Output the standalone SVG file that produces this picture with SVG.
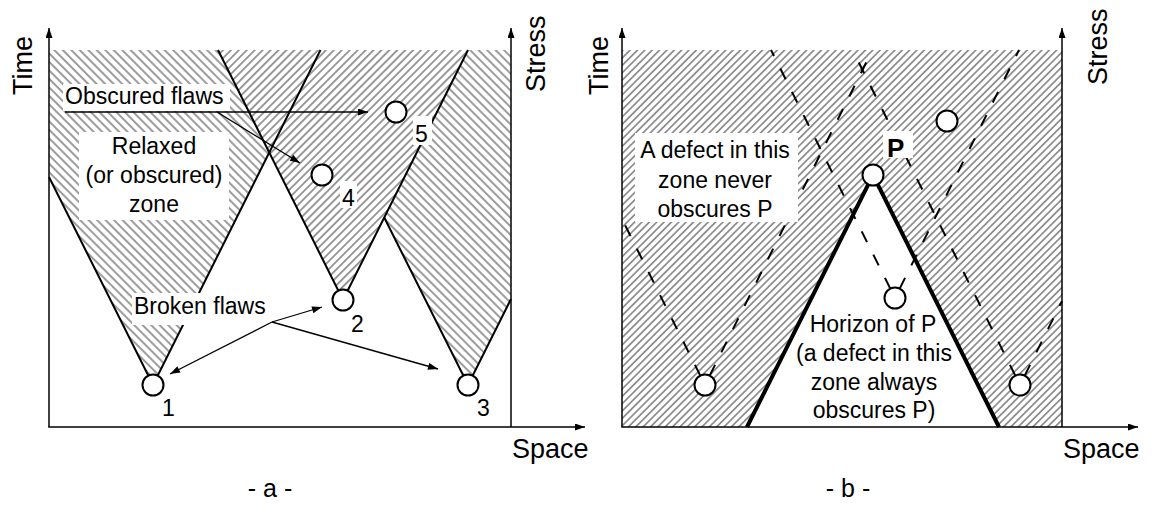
<svg xmlns="http://www.w3.org/2000/svg" width="1154" height="508" viewBox="0 0 1154 508">
<style>
.cone{stroke:#000;stroke-width:2;fill:none}
.hor{stroke:#000;stroke-width:4;fill:none}
.dash{stroke:#000;stroke-width:2;stroke-dasharray:12 14;fill:none}
.axis{stroke:#000;stroke-width:1.5;fill:none}
.conn{stroke:#000;stroke-width:1.3;fill:none}
.flaw{fill:#fff;stroke:#000;stroke-width:2}
.box{fill:#fff}
text{font-family:"Liberation Sans",Arial,Helvetica,sans-serif;font-size:23px;fill:#000}
.ax{font-size:27px}
.mid{text-anchor:middle}
</style>
<defs>
<pattern id="fw" width="5.6" height="5.6" patternUnits="userSpaceOnUse" patternTransform="rotate(45)"><line x1="2.8" y1="0" x2="2.8" y2="5.6" stroke="#222" stroke-width="0.9"/></pattern>
<pattern id="fwb" width="5.2" height="5.2" patternUnits="userSpaceOnUse" patternTransform="rotate(45)"><line x1="2.6" y1="0" x2="2.6" y2="5.2" stroke="#222" stroke-width="0.9"/></pattern>
<pattern id="bk" width="6" height="6" patternUnits="userSpaceOnUse" patternTransform="rotate(-45)"><line x1="3" y1="0" x2="3" y2="6" stroke="#222" stroke-width="0.9"/></pattern>
<marker id="ah" viewBox="0 0 10 7" refX="10" refY="3.5" markerWidth="11" markerHeight="7" orient="auto" markerUnits="userSpaceOnUse"><path d="M0,0 L10,3.5 L0,7 z" fill="#000"/></marker>
<marker id="axh" viewBox="0 0 10 7" refX="10" refY="3.5" markerWidth="11" markerHeight="7" orient="auto" markerUnits="userSpaceOnUse"><path d="M0,0 L10,3.5 L0,7 z" fill="#000"/></marker>
</defs>

<!-- Panel a -->
<g id="panel-a-zones">
<path d="M49,50 L218,50 L269,152.5 L153,385 L49,177 Z" fill="url(#bk)"/>
<path d="M218,50 L468,50 L343,300 Z" fill="url(#fw)"/>
<path d="M468,50 L511,50 L511,299 L468,385 L384.25,217.5 Z" fill="url(#bk)"/>
</g>
<g id="panel-a-cones">
<line class="cone" x1="153" y1="385" x2="49" y2="177"/>
<line class="cone" x1="153" y1="385" x2="320.5" y2="50"/>
<line class="cone" x1="343" y1="300" x2="218" y2="50"/>
<line class="cone" x1="343" y1="300" x2="468" y2="50"/>
<line class="cone" x1="468" y1="385" x2="384.25" y2="217.5"/>
<line class="cone" x1="468" y1="385" x2="511" y2="299"/>
</g>
<g id="panel-a-axes">
<line class="axis" x1="49" y1="427" x2="49" y2="28" marker-end="url(#axh)"/>
<line class="axis" x1="48.3" y1="427" x2="585" y2="427" marker-end="url(#axh)"/>
<line class="axis" x1="511" y1="427" x2="511" y2="28" marker-end="url(#axh)"/>
<text class="ax" transform="translate(32,95) rotate(-90)">Time</text>
<text class="ax" transform="translate(545,92) rotate(-90)">Stress</text>
<text class="ax" x="512" y="458">Space</text>
</g>
<g id="label-obscured">
<rect class="box" x="63" y="84" width="167" height="27"/>
<text x="65" y="104">Obscured flaws</text>
</g>
<g id="label-relaxed">
<rect class="box" x="79" y="132" width="150" height="88"/>
<text class="mid" x="154" y="154">Relaxed</text>
<text class="mid" x="154" y="183">(or obscured)</text>
<text class="mid" x="154" y="212">zone</text>
</g>
<g id="label-broken">
<rect class="box" x="132" y="293" width="136" height="32"/>
<text x="134" y="314">Broken flaws</text>
</g>
<g id="connectors-a">
<line class="conn" x1="65" y1="112" x2="368" y2="112" marker-end="url(#ah)"/>
<line class="conn" x1="217" y1="112" x2="300" y2="163" marker-end="url(#ah)"/>
<line class="conn" x1="272" y1="322" x2="170" y2="374" marker-end="url(#ah)"/>
<line class="conn" x1="272" y1="322" x2="322" y2="307" marker-end="url(#ah)"/>
<line class="conn" x1="272" y1="322" x2="438" y2="369" marker-end="url(#ah)"/>
</g>
<g id="flaw-1"><circle class="flaw" cx="153" cy="385" r="10.5"/><text x="162" y="416">1</text></g>
<g id="flaw-2"><circle class="flaw" cx="343" cy="300" r="10.5"/><text x="351" y="332">2</text></g>
<g id="flaw-3"><circle class="flaw" cx="468" cy="385" r="10.5"/><text x="477" y="416">3</text></g>
<g id="flaw-4"><circle class="flaw" cx="322" cy="175" r="10.5"/><rect class="box" x="340" y="181" width="17" height="27"/><text x="342" y="206">4</text></g>
<g id="flaw-5"><circle class="flaw" cx="396" cy="112" r="10.5"/><rect class="box" x="413" y="116" width="19" height="29"/><text x="415" y="142">5</text></g>
<text class="mid" x="270" y="497" style="font-size:25px">- a -</text>

<!-- Panel b -->
<g id="panel-b-zones">
<rect x="622" y="50" width="440" height="377" fill="url(#fwb)"/>
<path d="M873,175 L747,427 L999,427 Z" fill="#fff"/>
</g>
<g id="panel-b-dashed">
<line class="dash" x1="700.3" y1="375.6" x2="622" y2="219"/>
<line class="dash" x1="709.7" y1="375.6" x2="872.5" y2="50"/>
<line class="dash" x1="890.3" y1="288.6" x2="771" y2="50"/>
<line class="dash" x1="899.7" y1="288.6" x2="1019" y2="50"/>
<line class="dash" x1="1015.3" y1="375.6" x2="852.5" y2="50"/>
<line class="dash" x1="1024.7" y1="375.6" x2="1062" y2="301"/>
</g>
<g id="horizon-lines">
<line class="hor" x1="873" y1="175" x2="747" y2="427"/>
<line class="hor" x1="873" y1="175" x2="999" y2="427"/>
</g>
<g id="panel-b-axes">
<line class="axis" x1="622" y1="427" x2="622" y2="28" marker-end="url(#axh)"/>
<line class="axis" x1="621.3" y1="427" x2="1138" y2="427" marker-end="url(#axh)"/>
<line class="axis" x1="1062" y1="427" x2="1062" y2="28" marker-end="url(#axh)"/>
<text class="ax" transform="translate(608,95) rotate(-90)">Time</text>
<text class="ax" transform="translate(1107,85) rotate(-90)">Stress</text>
<text class="ax" x="1063" y="458">Space</text>
</g>
<g id="label-never">
<rect class="box" x="635" y="133" width="163" height="89"/>
<text class="mid" x="715" y="158">A defect in this</text>
<text class="mid" x="715" y="188">zone never</text>
<text class="mid" x="715" y="217">obscures P</text>
</g>
<g id="label-horizon">
<text class="mid" x="873" y="332">Horizon of P</text>
<text class="mid" x="874" y="361">(a defect in this</text>
<text class="mid" x="874" y="390">zone always</text>
<text class="mid" x="874" y="418">obscures P)</text>
</g>
<g id="node-P">
<circle class="flaw" cx="873" cy="175" r="10.5"/>
<rect class="box" x="883" y="131" width="30" height="27"/>
<text x="887" y="157" style="font-weight:bold;font-size:26px">P</text>
</g>
<g id="defect-left"><circle class="flaw" cx="705" cy="385" r="10.5"/></g>
<g id="defect-mid"><circle class="flaw" cx="895" cy="298" r="10.5"/></g>
<g id="defect-right"><circle class="flaw" cx="1020" cy="385" r="10.5"/></g>
<g id="defect-top"><circle class="flaw" cx="947" cy="121" r="10.5"/></g>
<text class="mid" x="848" y="497" style="font-size:25px">- b -</text>
</svg>
